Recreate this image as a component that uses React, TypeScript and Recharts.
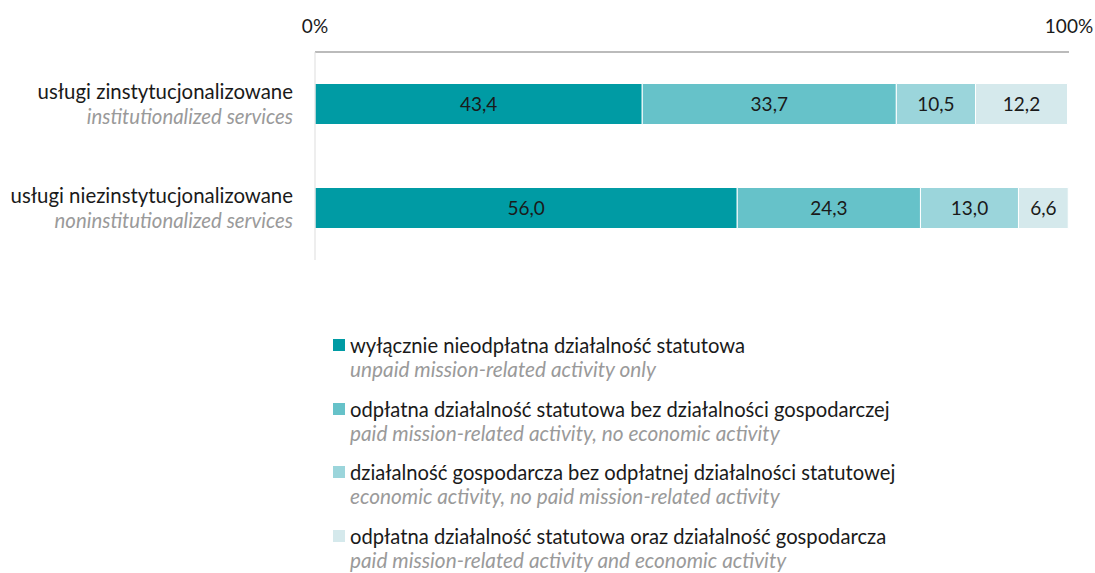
import { BarChart, Bar, XAxis, YAxis, LabelList } from 'recharts';

const categories = ['usługi zinstytucjonalizowane', 'usługi niezinstytucjonalizowane'];
const categoriesEn = ['institutionalized services', 'noninstitutionalized services'];

const unpaidOnly = [43.4, 56.0];
const paidNoEconomic = [33.7, 24.3];
const economicNoPaid = [10.5, 13.0];
const paidAndEconomic = [12.2, 6.6];

const seriesNames = [
  'wyłącznie nieodpłatna działalność statutowa',
  'odpłatna działalność statutowa bez działalności gospodarczej',
  'działalność gospodarcza bez odpłatnej działalności statutowej',
  'odpłatna działalność statutowa oraz działalność gospodarcza',
];
const seriesNamesEn = [
  'unpaid mission-related activity only',
  'paid mission-related activity, no economic activity',
  'economic activity, no paid mission-related activity',
  'paid mission-related activity and economic activity',
];
const colors = ['#009ba4', '#66c2c9', '#9bd5db', '#d5e9ec'];
const xTicks = [0, 100];

const data = categories.map((name, i) => ({
  name,
  s0: unpaidOnly[i],
  s1: paidNoEconomic[i],
  s2: economicNoPaid[i],
  s3: paidAndEconomic[i],
}));

const FONT = 'Lato, "Open Sans", sans-serif';
const fmt = (v: any) => Number(v).toFixed(1).replace('.', ',');

const CategoryTick = (props: any) => {
  const { x, y, payload } = props;
  const idx = categories.indexOf(payload.value);
  return (
    <g>
      <text x={x} y={y - 5} textAnchor="end" fontSize={20.4} fill="#1a1a1a" fontFamily={FONT}>
        {payload.value}
      </text>
      <text x={x} y={y + 20} textAnchor="end" fontSize={20.4} fill="#9a9a9a" fontStyle="italic" fontFamily={FONT}>
        {categoriesEn[idx]}
      </text>
    </g>
  );
};

const PercentTick = (props: any) => {
  const { x, payload } = props;
  return (
    <text x={x} y={33} textAnchor="middle" fontSize={19} fill="#1a1a1a" fontFamily={FONT}>
      {payload.value}%
    </text>
  );
};

// legend drawn as plain html under the plot
const ChartLegend = () => (
  <div
    style={{
      position: 'absolute',
      left: 333,
      top: 333,
      fontFamily: FONT,
      fontSize: 20.2,
      lineHeight: '24px',
    }}
  >
    {seriesNames.map((n, i) => (
      <div key={n} style={{ marginBottom: 15.5 }}>
        <div style={{ display: 'flex', alignItems: 'center', color: '#1a1a1a' }}>
          <span style={{ display: 'inline-block', width: 12, height: 12, background: colors[i], marginRight: 5 }} />
          {n}
        </div>
        <div style={{ color: '#9a9a9a', fontStyle: 'italic', paddingLeft: 17, fontSize: 20.8 }}>{seriesNamesEn[i]}</div>
      </div>
    ))}
  </div>
);

export default function App() {
  return (
    <div style={{ position: 'absolute', left: 0, top: 0, width: 1095, height: 573, background: '#fff' }}>
      <BarChart
        width={1095}
        height={573}
        data={data}
        layout="vertical"
        margin={{ top: 22, right: 26, left: 0, bottom: 313 }}
        barCategoryGap={31.5}
      >
        <XAxis
          type="number"
          orientation="top"
          height={30}
          domain={[0, 100]}
          ticks={xTicks}
          tick={<PercentTick />}
          tickLine={false}
          axisLine={{ stroke: '#bbbbbb', strokeWidth: 2 }}
        />
        <YAxis
          type="category"
          dataKey="name"
          width={315}
          tick={<CategoryTick />}
          tickLine={false}
          tickMargin={16}
          axisLine={{ stroke: '#dddddd', strokeWidth: 1 }}
        />
        {['s0', 's1', 's2', 's3'].map((k, i) => (
          <Bar key={k} dataKey={k} stackId="a" fill={colors[i]} stroke="#ffffff" strokeWidth={1} isAnimationActive={false}>
            <LabelList dataKey={k} position="center" formatter={fmt} fill="#1a1a1a" fontSize={19} fontFamily={FONT} />
          </Bar>
        ))}
      </BarChart>
      <ChartLegend />
    </div>
  );
}
